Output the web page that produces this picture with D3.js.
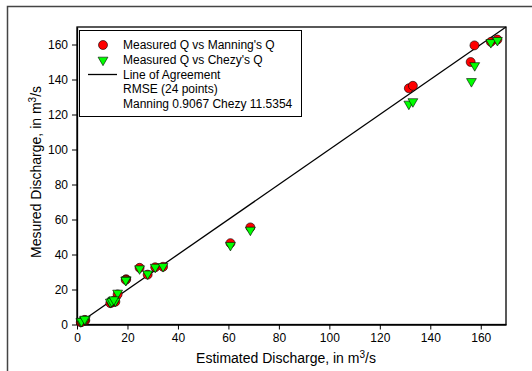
<!DOCTYPE html>
<html><head><meta charset="utf-8">
<script src="https://cdn.jsdelivr.net/npm/d3@7"></script>
<style>body{margin:0;background:#fff}svg{display:block}text{font-family:"Liberation Sans",Arial,sans-serif}</style>
</head><body>
<script>
const xTicks = [0,20,40,60,80,100,120,140,160];
const yTicks = [0,20,40,60,80,100,120,140,160];
const manningEst = [1.5,3.3,13.2,14.2,15.2,16.1,19.5,24.8,28.0,31.0,34.1,60.8,68.7,131.5,133.1,156.0,157.5,164.0,166.6,13.8,14.6,1.8,3.0,19.3];
const manningMeas = [1.3,2.4,12.2,13.0,13.0,17.2,25.9,32.4,28.5,32.7,33.0,46.5,55.5,135.0,136.4,150.0,159.5,161.5,162.8,12.6,13.6,1.5,2.6,25.5];
const chezyEst = [1.5,3.3,13.2,14.2,15.2,16.1,19.5,24.8,28.0,31.0,34.1,60.8,68.7,131.5,133.1,156.3,157.6,164.0,166.6,13.8,14.6,1.8,3.0,19.3];
const chezyMeas = [1.7,2.9,12.8,13.8,13.4,18.0,25.6,31.9,29.0,32.8,33.2,45.3,54.0,126.0,127.4,138.9,148.0,161.2,162.4,13.2,14.2,1.9,3.1,25.3];
const legendLabels = ["Measured Q vs Manning's Q","Measured Q vs Chezy's Q","Line of Agreement","RMSE (24 points)","Manning 0.9067 Chezy 11.5354"];

const W=532,H=371;
const svg=d3.select("body").append("svg").attr("width",W).attr("height",H);
svg.append("rect").attr("x",7.5).attr("y",6.5).attr("width",540).attr("height",380).attr("fill","none").attr("stroke","#444").attr("stroke-width",1.5);

const L=77,R=506,T=27,B=324.5;
const x=d3.scaleLinear().domain([0,170]).range([L,R]);
const y=d3.scaleLinear().domain([0,170]).range([B,T]);

svg.append("rect").attr("x",L).attr("y",T).attr("width",R-L).attr("height",B-T).attr("fill","none").attr("stroke","#000").attr("stroke-width",1.3);

const xa=svg.append("g").attr("transform",`translate(0,${B})`).call(d3.axisBottom(x).tickValues(xTicks).tickSize(5).tickSizeOuter(0).tickPadding(4));
const ya=svg.append("g").attr("transform",`translate(${L},0)`).call(d3.axisLeft(y).tickValues(yTicks).tickSize(5).tickSizeOuter(0).tickPadding(4));
[xa,ya].forEach(a=>{a.select(".domain").attr("stroke","#000").attr("stroke-width",1.3);a.selectAll("text").attr("font-size",12).attr("fill","#000").style("font-family","Liberation Sans, Arial");a.selectAll(".tick line").attr("stroke","#000");});

// line of agreement
svg.append("line").attr("x1",x(0)).attr("y1",y(0)).attr("x2",x(170)).attr("y2",y(170)).attr("stroke","#000").attr("stroke-width",1.3);

const tri=d3.symbol().type(d3.symbolTriangle).size(42);
const man=manningEst.map((v,i)=>({x:v,y:manningMeas[i]}));
const che=chezyEst.map((v,i)=>({x:v,y:chezyMeas[i]}));
svg.append("g").selectAll("circle").data(man).join("circle").attr("cx",d=>x(d.x)).attr("cy",d=>y(d.y)).attr("r",4.5).attr("fill","#ff0000").attr("stroke","#000").attr("stroke-width",0.6);
svg.append("g").selectAll("path").data(che).join("path").attr("transform",d=>`translate(${x(d.x)},${y(d.y)}) rotate(180)`).attr("d",tri).attr("fill","#00ff00").attr("stroke","#000").attr("stroke-width",0.6);

// legend
const lg=svg.append("g");
lg.append("rect").attr("x",79.5).attr("y",30.5).attr("width",222).attr("height",86).attr("fill","#fff").attr("stroke","#000").attr("stroke-width",1);
const ly=[45,60,74.5,89,103.5];
lg.append("circle").attr("cx",103).attr("cy",ly[0]).attr("r",4.5).attr("fill","#ff0000").attr("stroke","#000").attr("stroke-width",0.6);
lg.append("path").attr("transform",`translate(103,${ly[1]}) rotate(180)`).attr("d",tri).attr("fill","#00ff00").attr("stroke","#000").attr("stroke-width",0.6);
lg.append("line").attr("x1",88).attr("x2",117).attr("y1",ly[2]).attr("y2",ly[2]).attr("stroke","#000").attr("stroke-width",1.3);
lg.selectAll("text.l").data(legendLabels).join("text").attr("class","l").attr("x",123).attr("y",(d,i)=>ly[i]).attr("dy","0.35em").attr("font-size",12).text(d=>d);

// axis titles
const xt=svg.append("text").attr("x",286).attr("y",363).attr("text-anchor","middle").attr("font-size",14);
xt.append("tspan").text("Estimated Discharge, in m");
xt.append("tspan").attr("dy",-5).attr("font-size",10).text("3");
xt.append("tspan").attr("dy",5).text("/s");
const yt=svg.append("text").attr("transform",`translate(41,172) rotate(-90)`).attr("text-anchor","middle").attr("font-size",14);
yt.append("tspan").text("Mesured Discharge, in m");
yt.append("tspan").attr("dy",-5).attr("font-size",10).text("3");
yt.append("tspan").attr("dy",5).text("/s");
</script>
</body></html>
